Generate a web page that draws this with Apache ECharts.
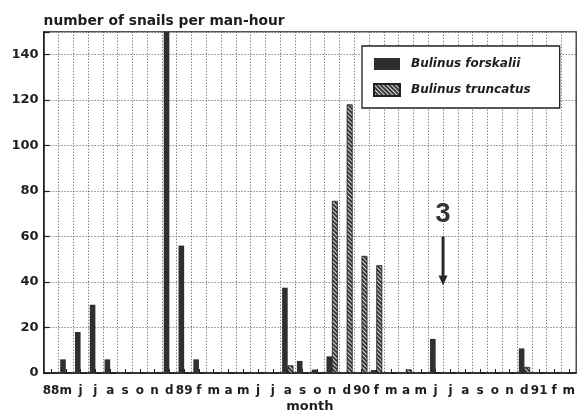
<!DOCTYPE html>
<html>
<head>
<meta charset="utf-8">
<script src="https://cdn.jsdelivr.net/npm/echarts@6/dist/echarts.min.js"></script>
<style>
  html, body { margin: 0; padding: 0; background: #fff; }
  #chart { width: 578px; height: 419px; }
</style>
</head>
<body>
<div id="chart"></div>
<script>
    // month labels, apr 1988 .. mar 1991 (year shown in place of the first month)
    var months = ['88', 'm', 'j', 'j', 'a', 's', 'o', 'n', 'd',
        '89', 'f', 'm', 'a', 'm', 'j', 'j', 'a', 's', 'o', 'n', 'd',
        '90', 'f', 'm', 'a', 'm', 'j', 'j', 'a', 's', 'o', 'n', 'd',
        '91', 'f', 'm'];

    var forskalii = [0, 6, 18, 30, 6, 0, 0, 0, 165,
        56, 6, 0, 0, 0, 0, 0, 37.5, 5.3, 1.5, 7.3, 0,
        0, 1.3, 0, 0, 0, 15, 0, 0, 0, 0, 0, 10.8,
        0, 0, 0];

    var truncatus = [0, 0, 0, 0, 0, 0, 0, 0, 0,
        0, 0, 0, 0, 0, 0, 0, 3.3, 0, 0, 75.6, 118,
        51.4, 47.3, 0, 1.5, 0, 0, 0, 0, 0, 0, 0, 2.6,
        0, 0, 0];

    var yTicks = [0, 20, 40, 60, 80, 100, 120, 140];

    // arrow marked "3": between jun and jul 1990, from 60 down to 38.5
    var arrowCats = [26, 27];
    var arrowFrom = 60;
    var arrowTo = 38.5;
    var arrowLabelAt = 69.5;
    var arrowLabel = '3';

    var dom = document.getElementById('chart');
    var myChart = echarts.init(dom, null, { renderer: 'canvas' });

    var font = 'DejaVu Sans';
    var ink = '#1e1e1e';

    var option = {
        animation: false,
        backgroundColor: '#fff',
        grid: {
            left: 43.6,
            top: 31.75,
            width: 536,
            height: 341.25,
            show: true,
            borderColor: ink,
            borderWidth: 1.2
        },
        legend: {
            orient: 'vertical',
            left: 362,
            top: 46,
            padding: [12, 29, 11, 11],
            itemWidth: 26,
            itemHeight: 12,
            itemGap: 13,
            backgroundColor: '#fff',
            borderColor: ink,
            borderWidth: 1.3,
            icon: 'rect',
            textStyle: {
                fontFamily: font,
                fontWeight: 'bold',
                fontStyle: 'italic',
                fontSize: 12,
                color: ink,
                padding: [0, 0, 0, 6]
            },
            data: ['Bulinus forskalii', 'Bulinus truncatus']
        },
        xAxis: {
            type: 'category',
            data: months,
            boundaryGap: true,
            name: 'month',
            nameLocation: 'middle',
            nameGap: 27,
            nameMoveOverlap: false,
            nameTextStyle: { fontFamily: font, fontWeight: 'bold', fontSize: 13, color: ink },
            axisLine: { lineStyle: { color: ink, width: 1.5 } },
            axisTick: { show: true, inside: true, length: 4, alignWithLabel: true, interval: 0,
                lineStyle: { color: ink, width: 1 } },
            axisLabel: { interval: 0, margin: 12, fontFamily: font, fontWeight: 'bold', fontSize: 12, color: ink },
            splitLine: { show: true, interval: 0, lineStyle: { color: '#555', type: [1, 2], width: 1 } }
        },
        yAxis: {
            type: 'value',
            min: 0,
            max: 150,
            interval: 20,
            name: 'number of snails per man-hour',
            nameLocation: 'end',
            nameGap: 3,
            nameTextStyle: { fontFamily: font, fontWeight: 'bold', fontSize: 13.8, color: ink, align: 'left' },
            axisLine: { show: true, lineStyle: { color: ink, width: 1.5 } },
            axisTick: { show: true, inside: true, length: 6, lineStyle: { color: ink, width: 1.2 } },
            axisLabel: {
                margin: 5, fontFamily: font, fontWeight: 'bold', fontSize: 13, color: ink,
                formatter: function (v) { return yTicks.indexOf(v) >= 0 ? String(v) : ''; }
            },
            splitLine: { show: true, lineStyle: { color: '#555', type: [1, 2], width: 1 } }
        },
        series: [{
            name: 'Bulinus forskalii',
            type: 'bar',
            data: forskalii,
            barWidth: 5.6,
            barGap: '0%',
            clip: true,
            itemStyle: { color: '#2f2f2f' }
        }, {
            name: 'Bulinus truncatus',
            type: 'bar',
            data: truncatus,
            barWidth: 5.6,
            barGap: '0%',
            clip: true,
            itemStyle: {
                color: '#3a3a3a',
                borderColor: '#222',
                borderWidth: 0.6,
                decal: {
                    symbol: 'rect',
                    symbolSize: 1,
                    dashArrayX: [[1, 0]],
                    dashArrayY: [1, 2],
                    rotation: Math.PI / 4,
                    color: 'rgba(235,235,235,0.9)'
                }
            }
        }]
    };

    option && myChart.setOption(option);

    // arrow annotation placed through the chart's own scales
    var pA = myChart.convertToPixel({ gridIndex: 0 }, [arrowCats[0], arrowFrom]);
    var pB = myChart.convertToPixel({ gridIndex: 0 }, [arrowCats[1], arrowFrom]);
    var ax = (pA[0] + pB[0]) / 2;
    var yFrom = pA[1];
    var yTo = myChart.convertToPixel({ gridIndex: 0 }, [arrowCats[0], arrowTo])[1];
    var yLab = myChart.convertToPixel({ gridIndex: 0 }, [arrowCats[0], arrowLabelAt])[1];

    myChart.setOption({
        graphic: [{
            type: 'line',
            shape: { x1: ax, y1: yFrom, x2: ax, y2: yTo - 8 },
            style: { stroke: '#2a2a2a', lineWidth: 3 }
        }, {
            type: 'polygon',
            shape: { points: [[ax - 4.5, yTo - 10], [ax + 4.5, yTo - 10], [ax, yTo]] },
            style: { fill: '#2a2a2a' }
        }, {
            type: 'text',
            x: ax,
            y: yLab,
            style: {
                text: arrowLabel,
                font: 'bold 27px "Liberation Sans"',
                fill: '#333',
                align: 'center',
                verticalAlign: 'middle'
            }
        }]
    });
</script>
</body>
</html>
